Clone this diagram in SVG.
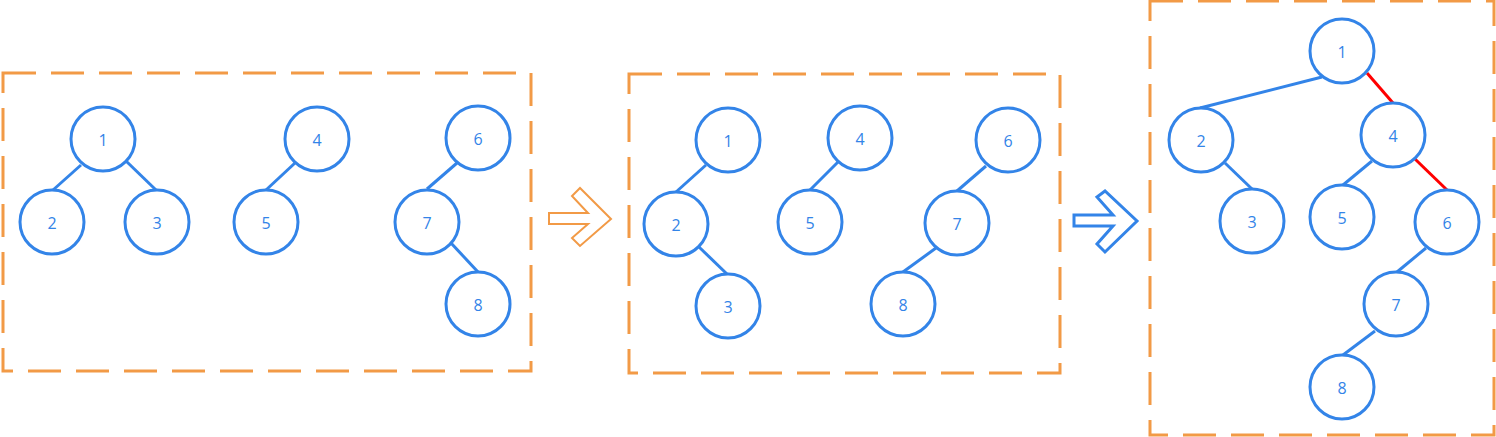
<svg xmlns="http://www.w3.org/2000/svg" width="1496" height="437" viewBox="0 0 1496 437">
<style>
.box{fill:none;stroke:#F29A46;stroke-width:3;stroke-dasharray:33 15}
.n circle{fill:#fff;stroke:#3384E8;stroke-width:3}
.n text{font-family:"Open Sans","Noto Sans","DejaVu Sans",sans-serif;font-size:16px;fill:#3384E8;text-anchor:middle;dominant-baseline:central}
.e{stroke:#3384E8;stroke-width:3;fill:none}
.r{stroke:#FF0000;stroke-width:3;fill:none}
</style>
<rect width="1496" height="437" fill="#fff"/>
<g id="frames">
<rect class="box" x="3" y="73" width="528" height="298"/>
<rect class="box" x="629" y="74" width="431" height="299"/>
<rect class="box" x="1150" y="1" width="344" height="434"/>
</g>
<g id="arrows">
<polygon points="549,213 588,213 572,196 580,188 611,219 580,246 572,238 588,224 549,224" fill="none" stroke="#F29A46" stroke-width="2"/>
<polygon points="1074,215 1113,215 1097,197 1105,191 1137,221 1105,252 1097,244 1113,226 1074,226" fill="none" stroke="#3384E8" stroke-width="3"/>
</g>
<g id="connectors">
<line class="e" x1="81" y1="165" x2="53" y2="190"/>
<line class="e" x1="126" y1="161" x2="156" y2="190"/>
<line class="e" x1="295" y1="163" x2="266" y2="190"/>
<line class="e" x1="457" y1="163" x2="427" y2="189"/>
<line class="e" x1="451" y1="243" x2="478" y2="272"/>
<line class="e" x1="706" y1="165" x2="676" y2="192"/>
<line class="e" x1="699" y1="247" x2="728" y2="275"/>
<line class="e" x1="838" y1="162" x2="810" y2="190"/>
<line class="e" x1="986" y1="166" x2="957" y2="191"/>
<line class="e" x1="936" y1="248" x2="903" y2="272"/>
<line class="e" x1="1322" y1="77" x2="1200" y2="108"/>
<line class="r" x1="1367" y1="73" x2="1393" y2="103"/>
<line class="e" x1="1225" y1="163" x2="1252" y2="189"/>
<line class="e" x1="1372" y1="161" x2="1343" y2="185"/>
<line class="r" x1="1415" y1="159" x2="1447" y2="190"/>
<line class="e" x1="1426" y1="248" x2="1397" y2="272"/>
<line class="e" x1="1375" y1="331" x2="1343" y2="355"/>
</g>
<g id="p1n1" class="n"><circle cx="103" cy="139" r="32"/><text x="103" y="140">1</text></g>
<g id="p1n2" class="n"><circle cx="52" cy="222" r="32"/><text x="52" y="223">2</text></g>
<g id="p1n3" class="n"><circle cx="157" cy="222" r="32"/><text x="157" y="223">3</text></g>
<g id="p1n4" class="n"><circle cx="317" cy="139" r="32"/><text x="317" y="140">4</text></g>
<g id="p1n5" class="n"><circle cx="266" cy="222" r="32"/><text x="266" y="223">5</text></g>
<g id="p1n6" class="n"><circle cx="478" cy="138" r="32"/><text x="478" y="139">6</text></g>
<g id="p1n7" class="n"><circle cx="427" cy="222" r="32"/><text x="427" y="223">7</text></g>
<g id="p1n8" class="n"><circle cx="478" cy="304" r="32"/><text x="478" y="305">8</text></g>
<g id="p2n1" class="n"><circle cx="728" cy="140" r="32"/><text x="728" y="141">1</text></g>
<g id="p2n2" class="n"><circle cx="676" cy="224" r="32"/><text x="676" y="225">2</text></g>
<g id="p2n3" class="n"><circle cx="728" cy="306" r="32"/><text x="728" y="307">3</text></g>
<g id="p2n4" class="n"><circle cx="860" cy="138" r="32"/><text x="860" y="139">4</text></g>
<g id="p2n5" class="n"><circle cx="810" cy="222" r="32"/><text x="810" y="223">5</text></g>
<g id="p2n6" class="n"><circle cx="1008" cy="140" r="32"/><text x="1008" y="141">6</text></g>
<g id="p2n7" class="n"><circle cx="957" cy="223" r="32"/><text x="957" y="224">7</text></g>
<g id="p2n8" class="n"><circle cx="903" cy="304" r="32"/><text x="903" y="305">8</text></g>
<g id="p3n1" class="n"><circle cx="1342" cy="51" r="32"/><text x="1342" y="52">1</text></g>
<g id="p3n2" class="n"><circle cx="1201" cy="140" r="32"/><text x="1201" y="141">2</text></g>
<g id="p3n3" class="n"><circle cx="1252" cy="221" r="32"/><text x="1252" y="222">3</text></g>
<g id="p3n4" class="n"><circle cx="1393" cy="135" r="32"/><text x="1393" y="136">4</text></g>
<g id="p3n5" class="n"><circle cx="1342" cy="217" r="32"/><text x="1342" y="218">5</text></g>
<g id="p3n6" class="n"><circle cx="1447" cy="222" r="32"/><text x="1447" y="223">6</text></g>
<g id="p3n7" class="n"><circle cx="1396" cy="304" r="32"/><text x="1396" y="305">7</text></g>
<g id="p3n8" class="n"><circle cx="1342" cy="387" r="32"/><text x="1342" y="388">8</text></g>
</svg>
